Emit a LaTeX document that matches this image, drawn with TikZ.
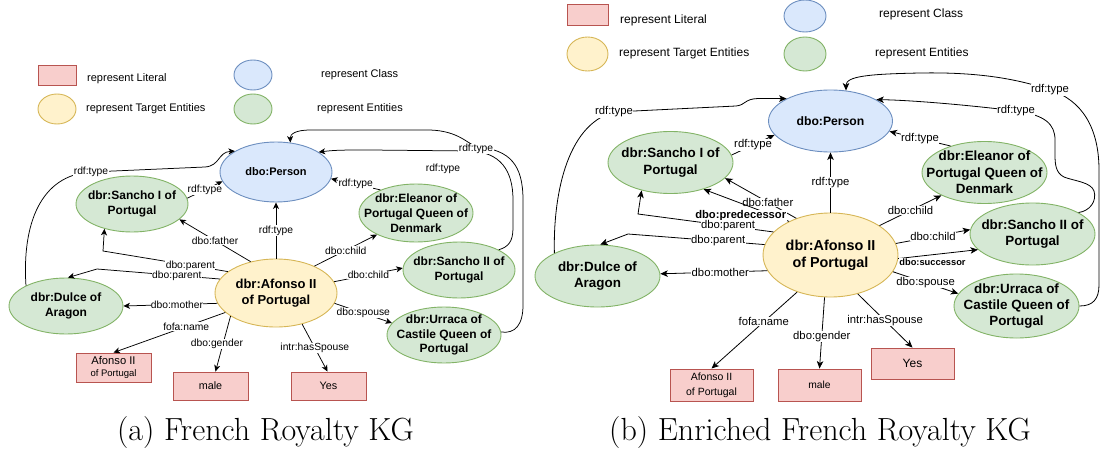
\documentclass[tikz,border=0pt]{standalone}
\usepackage{fontspec}
\usetikzlibrary{shapes.geometric,arrows.meta}
\newfontfamily\dfont{Liberation Sans}
\definecolor{clsfill}{HTML}{DAE8FC}\definecolor{clsline}{HTML}{6C8EBF}
\definecolor{tgtfill}{HTML}{FFF2CC}\definecolor{tgtline}{HTML}{D6B656}
\definecolor{entfill}{HTML}{D5E8D4}\definecolor{entline}{HTML}{82B366}
\definecolor{litfill}{HTML}{F8CECC}\definecolor{litline}{HTML}{B85450}
\begin{document}
\begin{tikzpicture}[x=1pt,y=-1pt,
  sz/.style 2 args={minimum width=#1pt,minimum height=#2pt},
  shp/.style={inner sep=0pt,line width=0.9pt},
  cls/.style={shp,ellipse,draw=clsline,fill=clsfill},
  tgt/.style={shp,ellipse,draw=tgtline,fill=tgtfill},
  ent/.style={shp,ellipse,draw=entline,fill=entfill},
  lit/.style={shp,rectangle,draw=litline,fill=litfill,align=center,text=black},
  ttl/.style={inner sep=0pt,align=center,text=black},
  nPA/.style={label={[ttl,font=\dfont\bfseries\fontsize{11}{13}\selectfont]center:{#1}}},
  nA/.style={label={[ttl,font=\dfont\bfseries\fontsize{12}{14.8}\selectfont]center:{#1}}},
  nAfA/.style={label={[ttl,font=\dfont\bfseries\fontsize{13}{15.8}\selectfont]center:{#1}}},
  nPB/.style={label={[ttl,font=\dfont\bfseries\fontsize{12.2}{14}\selectfont]center:{#1}}},
  nB/.style={label={[ttl,font=\dfont\bfseries\fontsize{13.4}{16.3}\selectfont]center:{#1}}},
  nAfB/.style={label={[ttl,font=\dfont\bfseries\fontsize{14.4}{17}\selectfont]center:{#1}}},
  lA/.style={fill=white,inner sep=0.4pt,text=black,font=\dfont\fontsize{10.3}{12}\selectfont},
  lB/.style={lA,font=\dfont\fontsize{11.3}{13}\selectfont},
  lBb/.style={lA,font=\dfont\bfseries\fontsize{11.2}{13}\selectfont},
  lBs/.style={lA,font=\dfont\bfseries\fontsize{9.3}{11}\selectfont},
  legA/.style={inner sep=0pt,anchor=west,text=black,font=\dfont\fontsize{11}{13}\selectfont},
  legB/.style={legA,font=\dfont\fontsize{12}{14}\selectfont},
  eA/.style={draw=black,line width=0.75pt,-{Stealth[length=6.5pt,width=6pt,inset=1.8pt]}},
  eB/.style={draw=black,line width=0.8pt,-{Stealth[length=7.5pt,width=6.5pt,inset=2pt]}},
  captxt/.style={inner sep=0pt,text=black,font=\fontsize{32}{38}\selectfont}
]
\useasboundingbox (0,0) rectangle (1100,452);

% ---------------- (a) French Royalty KG ----------------
% legend
\node[lit,sz={38}{20}] (lgLitA) at (57,75) {};
\node[legA] (lgLitTA) at (87,79) {represent Literal};
\node[cls,sz={38}{30}] (lgClsA) at (253,75) {};
\node[legA] (lgClsTA) at (321,75) {represent Class};
\node[tgt,sz={38}{30}] (lgTgtA) at (57,109) {};
\node[legA] (lgTgtTA) at (86,109) {represent Target Entities};
\node[ent,sz={38}{30}] (lgEntA) at (253,109) {};
\node[legA] (lgEntTA) at (317,109) {represent Entities};

% nodes
\node[cls,sz={112}{60},nPA={dbo:Person}] (personA) at (276,172) {};
\node[ent,sz={112}{56},nA={dbr:Sancho I of\\Portugal}] (sancho1A) at (132,204) {};
\node[ent,sz={114}{58},nA={dbr:Eleanor of\\Portugal Queen of\\Denmark}] (eleanorA) at (416,213) {};
\node[ent,sz={112}{56},nA={dbr:Sancho II of\\Portugal}] (sancho2A) at (459,270) {};
\node[ent,sz={114}{56},nA={dbr:Urraca of\\Castile Queen of\\Portugal}] (urracaA) at (444,335) {};
\node[ent,sz={114}{56},nA={dbr:Dulce of\\Aragon}] (dulceA) at (66,306) {};
\node[tgt,sz={122}{68},nAfA={dbr:Afonso II\\of Portugal}] (afonsoA) at (276,293) {};
\node[lit,sz={75}{29}] (litNameA) at (113.5,367.5)
  {\dfont\fontsize{11.2}{13.5}\selectfont Afonso II\\\dfont\fontsize{9.5}{11}\selectfont of Portugal};
\node[lit,sz={75}{28},font=\dfont\fontsize{10.8}{13}\selectfont] (litMaleA) at (210.5,386) {male};
\node[lit,sz={75}{28},font=\dfont\fontsize{10.8}{13}\selectfont] (litYesA) at (328.5,386) {Yes};

% connectors
\draw[eA] (afonsoA.north) -- node[lA]{rdf:type} (personA.south);
\draw[eA] (afonsoA.129) -- node[lA]{dbo:father} (sancho1A.-18);
\draw[eA] (afonsoA.156) -- node[lA,pos=0.3]{dbo:parent} (103,251) -- (sancho1A.222);
\draw[eA] (afonsoA.166) -- node[lA,pos=0.35]{dbo:parent} (97,269) -- (dulceA.86);
\draw[eA] (afonsoA.190) -- node[lA,pos=0.43]{dbo:mother} (dulceA.0);
\draw[eA] (afonsoA.201) -- node[lA,pos=0.35]{fofa:name} (litNameA.north);
\draw[eA] (afonsoA.207) -- node[lA,pos=0.5,xshift=-6pt]{dbo:gender} ([xshift=5pt]litMaleA.north);
\draw[eA] (afonsoA.-50) -- node[lA]{intr:hasSpouse} ([xshift=-1pt]litYesA.north);
\draw[eA] (afonsoA.35) -- node[lA]{dbo:child} (eleanorA.209);
\draw[eA] (afonsoA.11) -- node[lA]{dbo:child} (sancho2A.178);
\draw[eA] (afonsoA.-10) -- node[lA]{dbo:spouse} (urracaA.167);
\draw[eA] (sancho1A.6) -- node[lA]{rdf:type} (personA.190);
\draw[eA] (eleanorA.147) -- node[lA]{rdf:type} (personA.-7);
\draw[eA] (dulceA.153) .. controls (22,225) and (40,175) .. (91,172) node[lA]{rdf:type}
  -- (205,167) .. controls (220,166) and (218,152) .. (personA.153);
\draw[eA] (sancho2A.27) .. controls (508,247) and (513,242) .. (513,228) -- (513,200)
  .. controls (513,170) and (500,152) .. (470,151) -- (370,150)
  .. controls (345,150) and (335,150) .. (personA.25);
\draw[eA] (urracaA.3) .. controls (515,334) and (523,325) .. (523,305) -- (523,200)
  .. controls (523,165) and (510,150) .. (478,147)
  .. controls (468,145) and (460,131) .. (430,130) -- (310,130)
  .. controls (296,130) and (290,134) .. (personA.64);
\node[lA] (tyA1) at (476,149) {rdf:type};
\node[lA,fill=none] (tyA2) at (443,169) {rdf:type};

\node[captxt] (capA) at (265.5,433) {(a) French Royalty KG};

% ---------------- (b) Enriched French Royalty KG ----------------
% legend
\node[lit,sz={41}{21}] (lgLitB) at (587.5,15) {};
\node[legB] (lgLitTB) at (620,20) {represent Literal};
\node[cls,sz={42}{32}] (lgClsB) at (805,16) {};
\node[legB] (lgClsTB) at (879,14) {represent Class};
\node[tgt,sz={41}{34}] (lgTgtB) at (587.5,54) {};
\node[legB] (lgTgtTB) at (619,53) {represent Target Entities};
\node[ent,sz={42}{34}] (lgEntB) at (805,54) {};
\node[legB] (lgEntTB) at (875,53) {represent Entities};

% nodes
\node[cls,sz={124}{62},nPB={dbo:Person}] (personB) at (830.5,121) {};
\node[ent,sz={125}{62},nB={dbr:Sancho I of\\Portugal}] (sancho1B) at (670.5,162.5) {};
\node[ent,sz={125}{62},nB={dbr:Eleanor of\\Portugal Queen of\\Denmark}] (eleanorB) at (984.5,172.5) {};
\node[ent,sz={125}{62},nB={dbr:Sancho II of\\Portugal}] (sancho2B) at (1032.5,234) {};
\node[ent,sz={125}{64},nB={dbr:Urraca of\\Castile Queen of\\Portugal}] (urracaB) at (1016.5,306) {};
\node[ent,sz={125}{62},nB={dbr:Dulce of\\Aragon}] (dulceB) at (597.5,276) {};
\node[tgt,sz={135}{84},nAfB={dbr:Afonso II\\of Portugal}] (afonsoB) at (830.5,255) {};
\node[lit,sz={83}{32},font=\dfont\fontsize{10.5}{15}\selectfont] (litNameB) at (711.5,385) {Afonso II\\of Portugal};
\node[lit,sz={83}{32},font=\dfont\fontsize{10.3}{13}\selectfont] (litMaleB) at (819.5,385) {male};
\node[lit,sz={83}{31},font=\dfont\fontsize{12}{14}\selectfont] (litYesB) at (912.5,363.5) {Yes};

% connectors
\draw[eB] (afonsoB.north) -- node[lB]{rdf:type} (personB.south);
\draw[eB] (afonsoB.133) -- node[lB,pos=0.4]{dbo:father} (sancho1B.-16);
\draw[eB] (afonsoB.141) -- node[lBb,pos=0.565,yshift=-12pt]{dbo:predecessor} (sancho1B.-39);
\draw[eB] (afonsoB.158) -- node[lB,pos=0.335]{dbo:parent} (638,214) -- (sancho1B.224);
\draw[eB] (afonsoB.171) -- node[lB,pos=0.34]{dbo:parent} (628,234) -- (dulceB.85);
\draw[eB] (afonsoB.194.5) -- node[lB,pos=0.44]{dbo:mother} (dulceB.2);
\draw[eB] (afonsoB.31) -- node[lB]{dbo:child} (eleanorB.208);
\draw[eB] (afonsoB.10) -- node[lB]{dbo:child} (sancho2B.176);
\draw[eB] (afonsoB.-3) -- node[lBs,pos=0.43,yshift=-7pt]{dbo:successor} (sancho2B.196);
\draw[eB] (afonsoB.-15) -- node[lB]{dbo:spouse} (urracaB.168.5);
\draw[eB] (afonsoB.228) -- node[lB,pos=0.39]{fofa:name} (litNameB.north);
\draw[eB] (afonsoB.262) -- node[lB,pos=0.55]{dbo:gender} (litMaleB.north);
\draw[eB] (afonsoB.-55) -- node[lB,pos=0.5]{intr:hasSpouse} (litYesB.north);
\draw[eB] (sancho1B.7) -- node[lB]{rdf:type} (personB.194);
\draw[eB] (eleanorB.142) -- node[lB]{rdf:type} (personB.-10);
\draw[eB] (dulceB.152) .. controls (553,200) and (565,125) .. (614,112) node[lB]{rdf:type}
  -- (736,106) .. controls (746,105) and (744,99) .. (758,98.5) -- (personB.153);
\draw[eB] (sancho2B.25) .. controls (1090,211) and (1097,201) .. (1094,191)
  .. controls (1091,182) and (1074,181) .. (1064,177)
  .. controls (1056,173) and (1055,165) .. (1055,155) -- (1055,140)
  .. controls (1055,124) and (1045,115) .. (1016,111) node[lB]{rdf:type}
  .. controls (960,104) and (905,100) .. (personB.25);
\draw[eB] (urracaB.0) .. controls (1093,306) and (1099,299) .. (1099,285) -- (1099,170)
  .. controls (1099,128) and (1082,100) .. (1050,90) node[lB]{rdf:type}
  .. controls (1015,78) and (975,72) .. (920,73)
  .. controls (870,74) and (846,76) .. (personB.63);

\node[captxt] (capB) at (820,433) {(b) Enriched French Royalty KG};
\end{tikzpicture}
\end{document}
